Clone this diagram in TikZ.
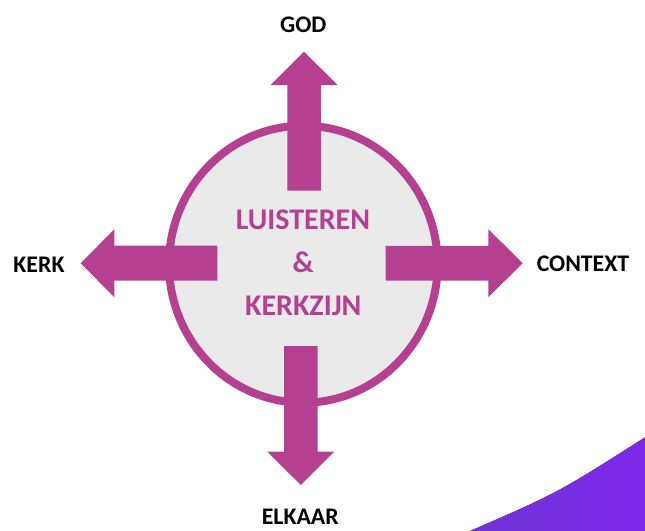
\documentclass[tikz,border=0pt]{standalone}
\usepackage{fontspec}
\newfontfamily\calfont{Carlito}
\definecolor{magen}{RGB}{181,64,146}
\definecolor{ringfill}{RGB}{234,234,234}
\definecolor{violA}{RGB}{110,52,212}
\definecolor{violB}{RGB}{126,40,234}
\tikzset{
  arrowshape/.style={fill=magen, draw=none},
  outerlabel/.style={anchor=base, inner sep=0pt, font=\calfont\bfseries\fontsize{23.8}{28}\selectfont, text=black},
  innerlabel/.style={anchor=base, inner sep=0pt, font=\calfont\bfseries\fontsize{30}{36}\selectfont, text=magen},
}
\begin{document}
\begin{tikzpicture}[x=1pt,y=-1pt]
\useasboundingbox (0,0) rectangle (645,530);
% violet corner shape
\fill[left color=violA, right color=violB] (470,531) .. controls (557.5,493) .. (646,436.7) -- (646,531) -- cycle;
\draw[white, opacity=0.5, line width=2pt] (468,528) .. controls (556,490) .. (646,434);
% central circle
\draw[magen, line width=8pt, fill=ringfill] (303.3,264.2) ellipse [x radius=134.3pt, y radius=138.5pt];
% arrows
\fill[arrowshape] (287.3,190.7) -- (287.3,85) -- (270.7,85) -- (304,51.7) -- (337.7,85) -- (321,85) -- (321,190.7) -- cycle;
\fill[arrowshape] (284,346) -- (284,451.7) -- (267.3,451.7) -- (300.8,485) -- (334.3,451.7) -- (317.7,451.7) -- (317.7,346) -- cycle;
\fill[arrowshape] (217.3,245.7) -- (114.3,245.7) -- (114.3,229.3) -- (80.7,263.2) -- (114.3,297.3) -- (114.3,280.7) -- (217.3,280.7) -- cycle;
\fill[arrowshape] (385.7,245.8) -- (488.3,245.8) -- (488.3,229.2) -- (522.7,263.2) -- (488.3,297.3) -- (488.3,280.7) -- (385.7,280.7) -- cycle;
% labels
\node[outerlabel] (god) at (303.3,32.5) {GOD};
\node[outerlabel] (kerk) at (39,272) {KERK};
\node[outerlabel] (context) at (583,271.3) {CONTEXT};
\node[outerlabel] (elkaar) at (300.3,524.5) {ELKAAR};
\node[innerlabel] (l1) at (302.9,229.3) {LUISTEREN};
\node[innerlabel] (l2) at (303.3,272) {\&};
\node[innerlabel] (l3) at (303.3,315) {KERKZIJN};
\end{tikzpicture}
\end{document}
